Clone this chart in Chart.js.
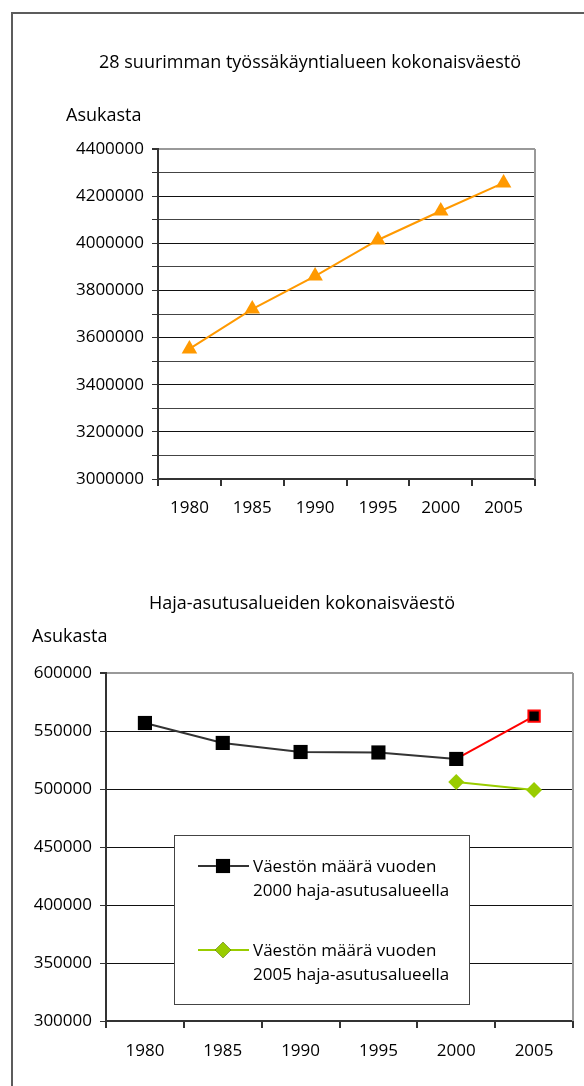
<!DOCTYPE html>
<html>
<head>
<meta charset="utf-8">
<script src="https://cdn.jsdelivr.net/npm/chart.js@4"></script>
<style>
  body { margin: 0; background: #fff; width: 584px; height: 1086px; overflow: hidden; position: relative; }
  #kehys { position: absolute; left: 11px; top: 12px; width: 700px; height: 1200px; border: 2px solid #5c5c5c; }
  canvas { position: absolute; left: 0; }
  #kuvio1 { top: 0; }
  #kuvio2 { top: 560px; }
</style>
</head>
<body>
<div id="kehys"></div>
<canvas id="kuvio1" width="584" height="560"></canvas>
<canvas id="kuvio2" width="584" height="526"></canvas>
<script>
// data
const vuodet = ['1980', '1985', '1990', '1995', '2000', '2005'];
const suurimmatAlueet = [3552000, 3721000, 3861000, 4014000, 4137000, 4256000];
const haja2000 = [556900, 539700, 531900, 531500, 525900, 562900];
const haja2005 = [null, null, null, null, 506000, 499100];

const otsikko1 = '28 suurimman työssäkäyntialueen kokonaisväestö';
const otsikko2 = 'Haja-asutusalueiden kokonaisväestö';
const yksikko = 'Asukasta';
const selite2000 = ['Väestön määrä vuoden', '2000 haja-asutusalueella'];
const selite2005 = ['Väestön määrä vuoden', '2005 haja-asutusalueella'];

const fontti = '"Open Sans"';
const koko = 18;     // tekstit
const lukukoko = 17; // akselien luvut ja selite
Chart.defaults.font.family = fontti;
Chart.defaults.font.size = lukukoko;
Chart.defaults.color = '#000';

// tekstit ja oikea reuna
function tekstit(otsikko, ox, oy, ax, ay) {
    return {
        id: 'tekstit',
        afterDraw(chart) {
            const c = chart.ctx;
            const a = chart.chartArea;
            c.save();
            c.strokeStyle = '#999';
            c.lineWidth = 2;
            c.beginPath();
            c.moveTo(a.right, a.top);
            c.lineTo(a.right, a.bottom);
            c.stroke();
            c.fillStyle = '#000';
            c.font = koko + 'px ' + fontti;
            c.textBaseline = 'middle';
            c.textAlign = 'center';
            c.fillText(otsikko, ox, oy);
            c.textAlign = 'left';
            c.fillText(yksikko, ax, ay);
            c.restore();
        }
    };
}

const kiintea = (w) => (scale) => { scale.width = w; };
const korkeus = (h) => (scale) => { scale.height = h; };

new Chart(document.getElementById('kuvio1'), {
    type: 'line',
    data: {
        labels: vuodet,
        datasets: [{
            label: otsikko1,
            data: suurimmatAlueet,
            borderColor: '#ff9900',
            backgroundColor: '#ff9900',
            borderWidth: 2,
            pointStyle: 'triangle',
            pointRadius: 9,
            pointBorderWidth: 0
        }]
    },
    options: {
        responsive: false,
        animation: false,
        layout: { padding: { left: 0, top: 149, right: 49, bottom: 0 } },
        plugins: { legend: { display: false }, tooltip: { enabled: false } },
        scales: {
            x: {
                offset: true,
                afterFit: korkeus(81),
                grid: { offset: true, drawOnChartArea: false, tickLength: 7, tickColor: '#333', lineWidth: 2 },
                border: { color: '#333', width: 2 },
                ticks: { padding: 12 }
            },
            y: {
                min: 3000000,
                max: 4400000,
                afterFit: kiintea(158),
                grid: {
                    color: (ctx) => ctx.tick && ctx.tick.value === 4400000 ? '#999' : (ctx.tick && ctx.tick.value % 200000 === 0 ? '#111' : '#444'),
                    lineWidth: (ctx) => ctx.tick && ctx.tick.value === 4400000 ? 2 : 1,
                    tickLength: 6,
                    tickColor: '#333'
                },
                border: { color: '#333', width: 2 },
                ticks: {
                    stepSize: 100000,
                    padding: 8,
                    autoSkip: false,
                    callback: (v) => v % 200000 === 0 ? String(v) : ''
                }
            }
        }
    },
    plugins: [tekstit(otsikko1, 310, 63, 66, 116)]
});

// selite alempaan kuvioon
const seliteLaatikko = {
    id: 'selite',
    afterDatasetsDraw(chart) {
        const c = chart.ctx;
        const x0 = 174, y0 = 275, w = 295, h = 169;
        c.save();
        c.fillStyle = '#fff';
        c.fillRect(x0, y0, w, h);
        c.strokeStyle = '#444';
        c.lineWidth = 1;
        c.strokeRect(x0 + 0.5, y0 + 0.5, w, h);
        const rivit = [
            { ds: chart.data.datasets[0], y: 306 },
            { ds: chart.data.datasets[1], y: 390 }
        ];
        rivit.forEach((r) => {
            c.strokeStyle = r.ds.borderColor;
            c.lineWidth = 2;
            c.beginPath();
            c.moveTo(198, r.y);
            c.lineTo(249, r.y);
            c.stroke();
            Chart.helpers.drawPoint(c, {
                pointStyle: r.ds.pointStyle,
                radius: r.ds.legendRadius,
                borderWidth: 0,
                rotation: 0
            }, 223, r.y);
            c.fillStyle = r.ds.backgroundColor;
            c.fill();
            c.fillStyle = '#000';
            c.font = lukukoko + 'px ' + fontti;
            c.textBaseline = 'middle';
            c.textAlign = 'left';
            r.ds.label.forEach((t, i) => c.fillText(t, 253, r.y + 1 + i * 24));
        });
        c.restore();
    }
};

new Chart(document.getElementById('kuvio2'), {
    type: 'line',
    data: {
        labels: vuodet,
        datasets: [{
            label: selite2000,
            data: haja2000,
            borderColor: '#333',
            backgroundColor: '#000',
            borderWidth: 2,
            pointStyle: 'rect',
            pointRadius: [10, 10, 10, 10, 10, 8],
            legendRadius: 10,
            pointBorderColor: ['#000', '#000', '#000', '#000', '#000', '#ff0000'],
            pointBorderWidth: [0, 0, 0, 0, 0, 2],
            segment: { borderColor: (ctx) => ctx.p1DataIndex === 5 ? '#ff0000' : undefined }
        }, {
            label: selite2005,
            data: haja2005,
            borderColor: '#99cc00',
            backgroundColor: '#99cc00',
            borderWidth: 2,
            pointStyle: 'rectRot',
            pointRadius: 8,
            legendRadius: 8,
            pointBorderWidth: 0
        }]
    },
    options: {
        responsive: false,
        animation: false,
        layout: { padding: { left: 0, top: 113, right: 11, bottom: 0 } },
        plugins: { legend: { display: false }, tooltip: { enabled: false } },
        scales: {
            x: {
                offset: true,
                afterFit: korkeus(65),
                grid: { offset: true, drawOnChartArea: false, tickLength: 7, tickColor: '#333', lineWidth: 2 },
                border: { color: '#333', width: 2 },
                ticks: { padding: 13 }
            },
            y: {
                min: 300000,
                max: 600000,
                afterFit: kiintea(106),
                grid: {
                    color: (ctx) => ctx.tick && ctx.tick.value === 600000 ? '#999' : '#111',
                    lineWidth: (ctx) => ctx.tick && ctx.tick.value === 600000 ? 2 : 1,
                    tickLength: 6,
                    tickColor: '#333'
                },
                border: { color: '#333', width: 2 },
                ticks: { stepSize: 50000, padding: 8, callback: (v) => String(v) }
            }
        }
    },
    plugins: [tekstit(otsikko2, 302, 44, 32, 77), seliteLaatikko]
});
</script>
</body>
</html>
